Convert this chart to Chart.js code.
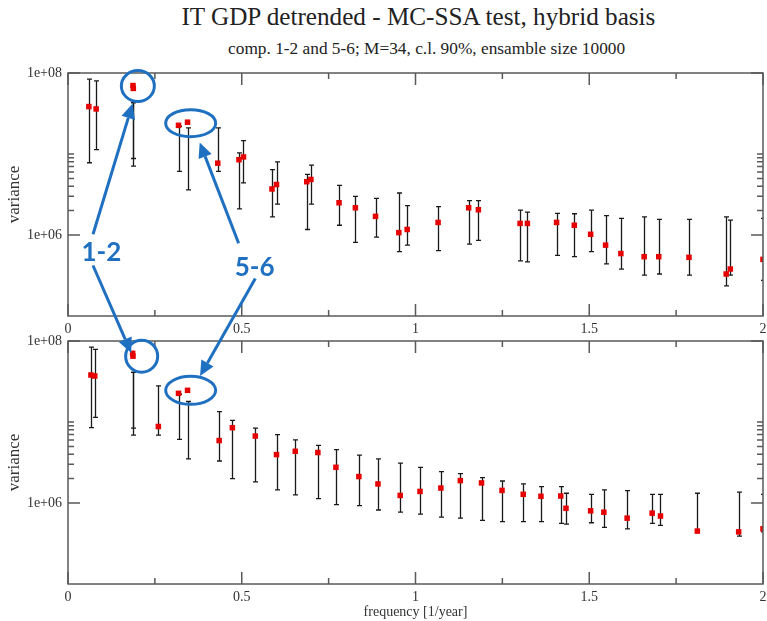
<!DOCTYPE html>
<html>
<head>
<meta charset="utf-8">
<script src="https://cdn.jsdelivr.net/npm/chart.js@4.4.0/dist/chart.umd.min.js"></script>
<style>
  html, body { margin: 0; padding: 0; background: #fff; }
  #wrap { position: relative; width: 767px; height: 621px; overflow: hidden; }
  .txt { position: absolute; white-space: nowrap; font-family: 'Liberation Serif', 'DejaVu Serif', serif; color: #222; transform-origin: center; }
  canvas { position: absolute; left: 0; }
</style>
</head>
<body>
<div id="wrap">
  <span class="txt" id="title" style="font-size:25px; top:3px;">IT GDP detrended - MC-SSA test, hybrid basis</span>
  <span class="txt" id="subtitle" style="font-size:16px; top:40px;">comp. 1-2 and 5-6; M=34, c.l. 90%, ensamble size 10000</span>
  <canvas id="chart-top" width="767" height="276" style="top:60px"></canvas>
  <canvas id="chart-bot" width="767" height="286" style="top:335px"></canvas>
  <canvas id="overlay" width="767" height="621" style="top:0; pointer-events:none"></canvas>
</div>
<script>
// top panel: frequency [1/year], variance, MC-SSA band low / high
const topFreq = [0.060, 0.081, 0.187, 0.188, 0.318, 0.344, 0.431, 0.492, 0.505, 0.587, 0.600, 0.687, 0.699,
  0.780, 0.827, 0.885, 0.952, 0.976, 1.065, 1.153, 1.181, 1.301, 1.322, 1.406, 1.457, 1.504, 1.547,
  1.591, 1.658, 1.700, 1.787, 1.894, 1.906, 2.000];
const topVar = [3.85e7, 3.6e7, 7.0e7, 6.45e7, 2.26e7, 2.47e7, 7.7e6, 8.5e6, 9.2e6, 3.7e6, 4.2e6, 4.55e6, 4.85e6,
  2.5e6, 2.17e6, 1.7e6, 1.07e6, 1.17e6, 1.43e6, 2.17e6, 2.05e6, 1.39e6, 1.39e6, 1.43e6, 1.32e6, 1.02e6, 7.5e5,
  5.9e5, 5.4e5, 5.4e5, 5.3e5, 3.3e5, 3.8e5, 5.0e5];
const topLo = [7.8e6, 1.13e7, 8.8e6, 7.1e6, 6.1e6, 3.6e6, 6.1e6, 2.1e6, 4.4e6, 1.67e6, 2.4e6, 1.17e6, 2.4e6,
  1.32e6, 8.1e5, 9.4e5, 6.25e5, 7.5e5, 6.4e5, 7.7e5, 8.6e5, 4.8e5, 4.65e5, 5.6e5, 5.4e5, 6.25e5, 4.4e5,
  3.8e5, 3.2e5, 3.3e5, 3.2e5, 2.35e5, 3.2e5, 2.75e5];
const topHi = [8.4e7, 8.0e7, 4.3e7, 4.3e7, 2.2e7, 2.1e7, 2.1e7, 1.03e7, 1.46e7, 6.4e6, 8.0e6, 5.6e6, 7.3e6,
  4.1e6, 3.0e6, 2.83e6, 3.3e6, 2.3e6, 2.24e6, 2.65e6, 2.65e6, 2.03e6, 1.92e6, 1.85e6, 1.83e6, 2.03e6, 1.73e6,
  1.6e6, 1.67e6, 1.56e6, 1.56e6, 1.67e6, 1.53e6, 1.6e6];

// bottom panel
const botFreq = [0.066, 0.077, 0.186, 0.187, 0.260, 0.318, 0.344, 0.435, 0.473, 0.539, 0.600, 0.654, 0.719,
  0.771, 0.837, 0.892, 0.956, 1.013, 1.073, 1.129, 1.190, 1.249, 1.310, 1.361, 1.418, 1.433, 1.504,
  1.542, 1.609, 1.681, 1.705, 1.811, 1.930, 2.000];
const botVar = [3.8e7, 3.7e7, 7.05e7, 6.5e7, 8.8e6, 2.26e7, 2.46e7, 5.9e6, 8.5e6, 6.7e6, 3.96e6, 4.35e6, 4.2e6,
  2.76e6, 2.12e6, 1.72e6, 1.24e6, 1.39e6, 1.53e6, 1.89e6, 1.77e6, 1.43e6, 1.28e6, 1.21e6, 1.22e6, 8.6e5, 8.0e5,
  7.7e5, 6.5e5, 7.5e5, 6.9e5, 4.5e5, 4.4e5, 4.8e5];
const botLo = [8.5e6, 1.14e7, 8.4e6, 6.9e6, 6.9e6, 6.1e6, 3.5e6, 3.3e6, 2.0e6, 1.82e6, 1.45e6, 1.26e6, 1.13e6,
  9.55e5, 9.3e5, 8.2e5, 7.7e5, 7.3e5, 6.7e5, 6.5e5, 6.1e5, 5.9e5, 5.9e5, 5.9e5, 5.6e5, 5.5e5, 5.7e5,
  5.0e5, 4.8e5, 5.6e5, 5.3e5, 4.4e5, 3.9e5, 4.4e5];
const botHi = [8.4e7, 7.9e7, 4.1e7, 4.1e7, 2.8e7, 2.2e7, 1.79e7, 1.34e7, 1.05e7, 8.4e6, 7.0e6, 6.0e6, 5.15e6,
  4.56e6, 3.9e6, 3.5e6, 3.1e6, 2.76e6, 2.44e6, 2.3e6, 2.06e6, 1.87e6, 1.72e6, 1.59e6, 1.59e6, 1.32e6, 1.28e6,
  1.45e6, 1.42e6, 1.28e6, 1.28e6, 1.32e6, 1.36e6, 1.28e6];

// axis ticks
const xTickLabels = ['0', '0.5', '1', '1.5', '2'];
const xMinorTicks = [0.25, 0.75, 1.25, 1.75];
const yMajorTicks = [1e6, 1e8];
const yMinorTicks = [2e6, 3e6, 4e6, 5e6, 6e6, 7e6, 8e6, 9e6, 1e7];

// annotations (data coordinates of the panel named)
const annLabels = [
  { text: '1-2', panel: 'top', f: 0.096, v: 6.1e5 },
  { text: '5-6', panel: 'top', f: 0.537, v: 4.0e5 }
];
const annArrows = [
  { from: ['top', 0.072, 1.02e6], to: ['top', 0.186, 4.2e7] },
  { from: ['top', 0.072, 4.2e5], to: ['bot', 0.182, 7.1e7] },
  { from: ['top', 0.491, 7.9e5], to: ['top', 0.379, 1.39e7] },
  { from: ['top', 0.539, 2.9e5], to: ['bot', 0.380, 3.7e7] }
];
const annRings = [
  { panel: 'top', f: 0.201, v: 6.9e7, rx: 16.5, ry: 15.5 },
  { panel: 'top', f: 0.353, v: 2.4e7, rx: 25, ry: 13.5 },
  { panel: 'bot', f: 0.212, v: 6.5e7, rx: 16, ry: 16 },
  { panel: 'bot', f: 0.353, v: 2.46e7, rx: 25, ry: 14 }
];

const SERIF = "'Liberation Serif', 'DejaVu Serif', serif";
const FRAME = '#5a5a5a';
const BLUE = '#1f70c1';

// error bars behind the markers
const errorBars = {
  id: 'errorBars',
  beforeDatasetsDraw(chart) {
    const ctx = chart.ctx, xs = chart.scales.x, ys = chart.scales.y;
    const a = chart.chartArea;
    ctx.save();
    ctx.beginPath();
    ctx.rect(a.left, a.top, a.right - a.left, a.bottom - a.top);
    ctx.clip();
    ctx.strokeStyle = '#1a1a1a';
    ctx.lineWidth = 1.3;
    chart.data.datasets.forEach(ds => {
      ds.data.forEach((p, i) => {
        const x = Math.round(xs.getPixelForValue(p.x)) + 0.5;
        const y1 = ys.getPixelForValue(ds.errLo[i]);
        const y2 = ys.getPixelForValue(ds.errHi[i]);
        ctx.beginPath();
        ctx.moveTo(x, y1); ctx.lineTo(x, y2);
        ctx.moveTo(x - 2.5, y1); ctx.lineTo(x + 2.5, y1);
        ctx.moveTo(x - 2.5, y2); ctx.lineTo(x + 2.5, y2);
        ctx.stroke();
      });
    });
    ctx.restore();
  }
};

// box frame with inward ticks, octave style
const frameTicks = {
  id: 'frameTicks',
  afterDatasetsDraw(chart) {
    const ctx = chart.ctx, xs = chart.scales.x, ys = chart.scales.y;
    const { left, right, top, bottom } = chart.chartArea;
    ctx.save();
    ctx.strokeStyle = FRAME;
    ctx.lineWidth = 1.5;
    ctx.strokeRect(left, top, right - left, bottom - top);
    ctx.beginPath();
    xTickLabels.map(Number).forEach(v => {
      const x = xs.getPixelForValue(v);
      ctx.moveTo(x, top); ctx.lineTo(x, top + 12);
      ctx.moveTo(x, bottom); ctx.lineTo(x, bottom - 12);
    });
    xMinorTicks.forEach(v => {
      const x = xs.getPixelForValue(v);
      ctx.moveTo(x, top); ctx.lineTo(x, top + 6);
      ctx.moveTo(x, bottom); ctx.lineTo(x, bottom - 6);
    });
    yMajorTicks.forEach(v => {
      const y = ys.getPixelForValue(v);
      ctx.moveTo(left, y); ctx.lineTo(left + 12, y);
      ctx.moveTo(right, y); ctx.lineTo(right - 12, y);
    });
    yMinorTicks.forEach(v => {
      const y = ys.getPixelForValue(v);
      ctx.moveTo(left, y); ctx.lineTo(left + 6, y);
      ctx.moveTo(right, y); ctx.lineTo(right - 6, y);
    });
    ctx.stroke();
    ctx.restore();
  }
};

function makePanel(canvasId, freq, vals, lo, hi, opts) {
  const ctx = document.getElementById(canvasId).getContext('2d');
  return new Chart(ctx, {
    type: 'scatter',
    data: {
      datasets: [{
        data: freq.map((f, i) => ({ x: f, y: vals[i] })),
        errLo: lo,
        errHi: hi,
        pointStyle: 'rect',
        pointRadius: 3.9,
        backgroundColor: '#e60000',
        borderWidth: 0
      }]
    },
    options: {
      responsive: false,
      animation: false,
      layout: { padding: { top: opts.padTop, right: 1, bottom: 0, left: 0 } },
      plugins: { legend: { display: false }, tooltip: { enabled: false } },
      scales: {
        x: {
          type: 'linear',
          min: 0, max: 2,
          afterBuildTicks: s => { s.ticks = xTickLabels.map(t => ({ value: Number(t) })); },
          afterFit: s => { s.height = opts.xHeight; s.paddingLeft = 0; s.paddingRight = 0; },
          ticks: {
            callback: (v, i) => xTickLabels[i],
            color: '#333', padding: 5, maxRotation: 0,
            font: { family: SERIF, size: 14 }
          },
          grid: { display: false, drawTicks: false },
          border: { display: false },
          title: {
            display: !!opts.xTitle, text: opts.xTitle || '', color: '#333',
            padding: { top: 0, bottom: 0 },
            font: { family: SERIF, size: 14 }
          }
        },
        y: {
          type: 'logarithmic',
          min: 1e5, max: 1e8,
          afterBuildTicks: s => { s.ticks = yMajorTicks.map(v => ({ value: v })); },
          afterFit: s => { s.width = 68; s.paddingTop = 0; s.paddingBottom = 0; },
          ticks: {
            callback: v => '1e+' + String(Math.round(Math.log10(v))).padStart(2, '0'),
            color: '#333', padding: 6,
            font: { family: SERIF, size: 14 }
          },
          grid: { display: false, drawTicks: false },
          border: { display: false },
          title: {
            display: true, text: 'variance', color: '#333',
            padding: { top: 4, bottom: 0 },
            font: { family: SERIF, size: 17 }
          }
        }
      }
    },
    plugins: [errorBars, frameTicks]
  });
}

const panels = {
  top: makePanel('chart-top', topFreq, topVar, topLo, topHi, { padTop: 13, xHeight: 20 }),
  bot: makePanel('chart-bot', botFreq, botVar, botLo, botHi, { padTop: 6, xHeight: 37, xTitle: 'frequency [1/year]' })
};

// fit the serif titles to the width they have in the figure
function fitText(id, centerX, width) {
  const el = document.getElementById(id);
  const w = el.getBoundingClientRect().width;
  el.style.left = (centerX - w / 2) + 'px';
  el.style.transform = 'scaleX(' + (width / w) + ')';
}
fitText('title', 418, 474);
fitText('subtitle', 427, 397);

// blue hand-drawn style annotations spanning both panels
function toPage(panel, f, v) {
  const ch = panels[panel];
  return {
    x: ch.scales.x.getPixelForValue(f) + ch.canvas.offsetLeft,
    y: ch.scales.y.getPixelForValue(v) + ch.canvas.offsetTop
  };
}

(function drawOverlay() {
  const ctx = document.getElementById('overlay').getContext('2d');
  ctx.strokeStyle = BLUE;
  ctx.fillStyle = BLUE;
  ctx.lineWidth = 3;

  annRings.forEach(r => {
    const c = toPage(r.panel, r.f, r.v);
    ctx.beginPath();
    ctx.ellipse(c.x, c.y, r.rx, r.ry, 0, 0, Math.PI * 2);
    ctx.stroke();
  });

  annArrows.forEach(a => {
    const p0 = toPage(a.from[0], a.from[1], a.from[2]);
    const p1 = toPage(a.to[0], a.to[1], a.to[2]);
    const ang = Math.atan2(p1.y - p0.y, p1.x - p0.x);
    const headLen = 15, headW = 7;
    const bx = p1.x - headLen * Math.cos(ang), by = p1.y - headLen * Math.sin(ang);
    ctx.beginPath();
    ctx.moveTo(p0.x, p0.y);
    ctx.lineTo(bx, by);
    ctx.stroke();
    ctx.beginPath();
    ctx.moveTo(p1.x, p1.y);
    ctx.lineTo(bx + headW * Math.sin(ang), by - headW * Math.cos(ang));
    ctx.lineTo(bx - headW * Math.sin(ang), by + headW * Math.cos(ang));
    ctx.closePath();
    ctx.fill();
  });

  ctx.font = "bold 26px Lato, 'Open Sans', sans-serif";
  ctx.textAlign = 'center';
  ctx.textBaseline = 'middle';
  annLabels.forEach(l => {
    const c = toPage(l.panel, l.f, l.v);
    ctx.fillText(l.text, c.x, c.y);
  });
})();
</script>
</body>
</html>
